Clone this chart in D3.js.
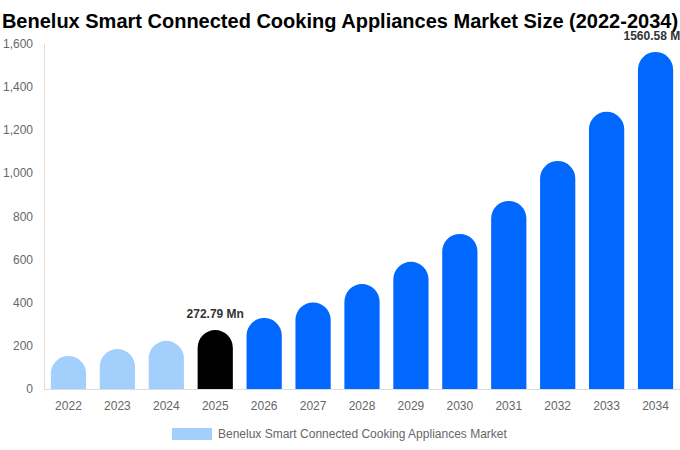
<!DOCTYPE html>
<html>
<head>
<meta charset="utf-8">
<script src="https://cdn.jsdelivr.net/npm/d3@7"></script>
<style>
  body { margin: 0; background: #fff; }
  svg { font-family: "Liberation Sans", Arial, sans-serif; display: block; }
</style>
</head>
<body>
<svg id="chart" width="680" height="450"></svg>
<script>
const years = ["2022", "2023", "2024", "2025", "2026", "2027", "2028", "2029", "2030", "2031", "2032", "2033", "2034"]
const values = [153, 185, 223, 272.79, 329, 401, 486, 589, 718, 871, 1056, 1284, 1560.58]
const yTicks = [0, 200, 400, 600, 800, 1000, 1200, 1400, 1600]
const labelled = { "2025": "272.79 Mn", "2034": "1560.58 Mn" }
const seriesName = "Benelux Smart Connected Cooking Appliances Market"

const W = 680, H = 450
const margin = { top: 43.5, right: 0, bottom: 61, left: 44 }

const svg = d3.select("#chart")

const x = d3.scaleBand()
  .domain(years)
  .range([margin.left, W - margin.right])
  .paddingInner(0.28)
  .paddingOuter(0.14)

const y = d3.scaleLinear()
  .domain([0, 1600])
  .range([H - margin.bottom, margin.top])

function barColor(yr) {
  if (+yr < 2025) return "#a3cffd"
  if (+yr === 2025) return "#000000"
  return "#0068ff"
}

// title
svg.append("text")
  .attr("x", W / 2)
  .attr("y", 28)
  .attr("text-anchor", "middle")
  .style("font-size", "20px")
  .style("font-weight", "bold")
  .attr("fill", "#000")
  .text("Benelux Smart Connected Cooking Appliances Market Size (2022-2034)")

// y axis
const yAxis = svg.append("g")
  .attr("transform", `translate(${margin.left},0)`)
  .call(d3.axisLeft(y).tickValues(yTicks).tickFormat(d3.format(",")).tickSize(0).tickPadding(11))
yAxis.select(".domain").attr("stroke", "#ddd")
yAxis.selectAll("text").attr("fill", "#666").style("font-size", "12px")

// x axis
const xAxis = svg.append("g")
  .attr("transform", `translate(0,${y(0)})`)
  .call(d3.axisBottom(x).tickSize(0).tickPadding(12))
xAxis.select(".domain").attr("stroke", "#ddd")
xAxis.selectAll("text").attr("fill", "#666").style("font-size", "12px")

// bars with fully rounded tops
const bw = x.bandwidth()
const r = bw / 2
function barPath(d, i) {
  const x0 = x(years[i]), yb = y(0), yt = y(d)
  const rr = Math.min(r, yb - yt)
  return `M${x0},${yb}V${yt + rr}A${r},${rr} 0 0 1 ${x0 + bw},${yt + rr}V${yb}Z`
}

svg.append("g")
  .selectAll("path")
  .data(values)
  .join("path")
  .attr("d", barPath)
  .attr("fill", (d, i) => barColor(years[i]))

// value labels
svg.append("g")
  .selectAll("text")
  .data(years.filter(yr => labelled[yr]))
  .join("text")
  .attr("x", yr => x(yr) + bw / 2)
  .attr("y", yr => y(values[years.indexOf(yr)]) - 12)
  .attr("text-anchor", "middle")
  .style("font-size", "12px")
  .style("font-weight", "bold")
  .attr("fill", "#333")
  .text(yr => labelled[yr])

// legend
const lg = svg.append("g").attr("transform", "translate(172,428)")
lg.append("rect").attr("width", 40).attr("height", 12).attr("fill", "#a3cffd")
lg.append("text")
  .attr("x", 46)
  .attr("y", 10)
  .style("font-size", "12px")
  .attr("fill", "#666")
  .text(seriesName)
</script>
</body>
</html>
